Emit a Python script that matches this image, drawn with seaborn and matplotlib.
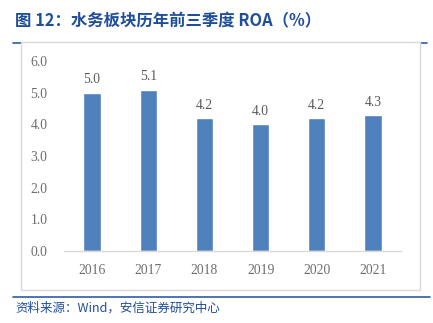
import matplotlib
matplotlib.use("Agg")
import matplotlib.pyplot as plt
import seaborn as sns
import pandas as pd
from matplotlib.patches import Rectangle
from matplotlib.lines import Line2D

years = ["2016", "2017", "2018", "2019", "2020", "2021"]
roa = [5.0, 5.1, 4.2, 4.0, 4.2, 4.3]
yticks = [0.0, 1.0, 2.0, 3.0, 4.0, 5.0, 6.0]
title = "图 12：水务板块历年前三季度 ROA（%）"
source = "资料来源：Wind，安信证券研究中心"

sns.set_theme(style="white")
plt.rcParams['font.family'] = ['Noto Sans CJK SC', 'DejaVu Sans']

W, H = 433, 323
fig = plt.figure(figsize=(W / 100, H / 100), dpi=100)

def fx(x):
    return x / W

def fy(y):
    return 1 - y / H

blue = "#1F4E9A"
# top blue line and box
fig.add_artist(Line2D([fx(13), fx(427)], [fy(42.5), fy(42.5)], color="#2E5DA8", lw=1.2, zorder=0.1))
fig.add_artist(Rectangle((fx(21), fy(290)), fx(420) - fx(21), fy(42) - fy(290),
                         facecolor="white", edgecolor="#D9D9D9", lw=1.0, zorder=0.2))
# bottom blue line
fig.add_artist(Line2D([fx(13), fx(430)], [fy(297), fy(297)], color="#2E5DA8", lw=1.2, zorder=0.1))

fig.text(fx(15), fy(21), title, color=blue, fontsize=11.8, fontweight="bold",
         va="center", ha="left")
fig.text(fx(15), fy(308), source, color=blue, fontsize=9, style="italic",
         va="center", ha="left")

ax = fig.add_axes([fx(64), fy(251), fx(401) - fx(64), fy(61) - fy(251)])
ax.set_zorder(1)
ax.set_facecolor("none")
df = pd.DataFrame({"year": years, "roa": roa})
sns.barplot(data=df, x="year", y="roa", color="#4F81BD", saturation=1, width=0.31, ax=ax)
ax.set_ylim(0, 6)
ax.set_xlim(-0.5, 5.5)
ax.set_yticks(yticks)
ax.set_yticklabels([f"{v:.1f}" for v in yticks])
ax.set_xlabel("")
ax.set_ylabel("")
for s in ["top", "right", "left"]:
    ax.spines[s].set_visible(False)
ax.spines["bottom"].set_color("#D9D9D9")
ax.spines["bottom"].set_linewidth(1.0)
ax.tick_params(axis="both", length=0, colors="#6E6E6E", labelsize=9.8)
ax.tick_params(axis="y", pad=12)
ax.tick_params(axis="x", pad=9)
for lab in ax.get_xticklabels() + ax.get_yticklabels():
    lab.set_family("Liberation Serif")
for i, v in enumerate(roa):
    ax.text(i, v + 0.2, f"{v:.1f}", ha="center", va="bottom", fontsize=9.8,
            color="#595959", family="Liberation Serif")

fig.savefig("out.png", dpi=100)
